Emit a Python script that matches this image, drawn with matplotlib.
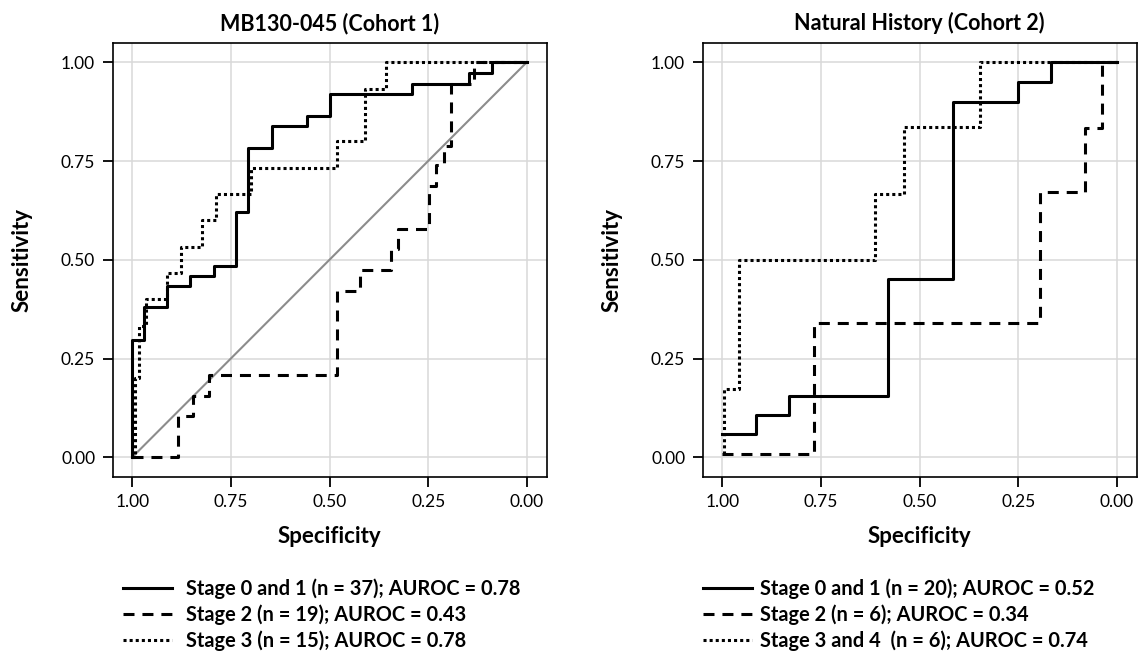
import matplotlib
matplotlib.use("Agg")
import matplotlib.pyplot as plt

plt.rcParams['font.family'] = ['Lato', 'DejaVu Sans']

# ---- data (specificity, sensitivity ROC step vertices) ----
titles = ["MB130-045 (Cohort 1)", "Natural History (Cohort 2)"]
tick_vals = [0.0, 0.25, 0.5, 0.75, 1.0]
tick_labels = ["0.00", "0.25", "0.50", "0.75", "1.00"]

c1_s01_spec = [1.0, 1.0, 0.970, 0.911, 0.854, 0.794, 0.736, 0.706, 0.647, 0.557, 0.499, 0.292, 0.146, 0.087, 0.0]
c1_s01_sens = [0.0, 0.298, 0.380, 0.433, 0.458, 0.485, 0.620, 0.783, 0.838, 0.863, 0.920, 0.946, 0.973, 1.0, 1.0]
c1_s2_spec = [1.0, 0.884, 0.846, 0.806, 0.480, 0.423, 0.344, 0.327, 0.248, 0.230, 0.211, 0.193, 0.134, 0.0]
c1_s2_sens = [0.0, 0.105, 0.156, 0.209, 0.420, 0.475, 0.526, 0.578, 0.686, 0.741, 0.787, 0.946, 1.0, 1.0]
c1_s3_spec = [1.0, 0.994, 0.983, 0.964, 0.911, 0.876, 0.823, 0.787, 0.698, 0.482, 0.409, 0.357, 0.0]
c1_s3_sens = [0.0, 0.200, 0.333, 0.400, 0.467, 0.533, 0.600, 0.667, 0.733, 0.800, 0.933, 1.0, 1.0]

c2_s01_spec = [1.0, 0.914, 0.832, 0.581, 0.415, 0.250, 0.167, 0.0]
c2_s01_sens = [0.059, 0.107, 0.156, 0.451, 0.899, 0.949, 1.0, 1.0]
c2_s2_spec = [1.0, 0.767, 0.195, 0.080, 0.038, 0.0]
c2_s2_sens = [0.008, 0.339, 0.671, 0.834, 1.0, 1.0]
c2_s34_spec = [0.996, 0.996, 0.958, 0.613, 0.540, 0.347, 0.0]
c2_s34_sens = [0.008, 0.173, 0.500, 0.667, 0.837, 1.0, 1.0]

labels_c1 = ["Stage 0 and 1 (n = 37); AUROC = 0.78",
             "Stage 2 (n = 19); AUROC = 0.43",
             "Stage 3 (n = 15); AUROC = 0.78"]
labels_c2 = ["Stage 0 and 1 (n = 20); AUROC = 0.52",
             "Stage 2 (n = 6); AUROC = 0.34",
             "Stage 3 and 4  (n = 6); AUROC = 0.74"]

fig = plt.figure(figsize=(11.38, 6.51), dpi=100)
W, H = 1138, 651
ax1 = fig.add_axes([112.5 / W, 1 - 477 / H, 434 / W, 434.5 / H])
ax2 = fig.add_axes([702.5 / W, 1 - 477 / H, 434 / W, 434.5 / H])

lw = 2.2
styles = [dict(linestyle='-'),
          dict(linestyle=(0, (3.6, 2.6))),
          dict(linestyle=(0, (1.0, 1.0)))]

def setup(ax, title):
    ax.set_xlim(1.05, -0.05)
    ax.set_ylim(-0.05, 1.05)
    ax.set_xticks(tick_vals)
    ax.set_xticklabels(tick_labels)
    ax.set_yticks(tick_vals)
    ax.set_yticklabels(tick_labels)
    ax.grid(True, color='#d9d9d9', linewidth=1.1)
    ax.set_axisbelow(True)
    for sp in ax.spines.values():
        sp.set_linewidth(1.2)
        sp.set_color('black')
    ax.tick_params(length=7, width=1.3, labelsize=12.5, pad=5.5, colors='black')
    ax.set_title(title, fontsize=15.5, fontweight='bold', pad=9)
    ax.set_xlabel("Specificity", fontsize=16, fontweight='bold', labelpad=11)
    ax.set_ylabel("Sensitivity", fontsize=16, fontweight='bold', labelpad=20)

setup(ax1, titles[0])
setup(ax2, titles[1])

ax1.plot([1, 0], [0, 1], color='#8c8c8c', linewidth=1.5, zorder=2)

l1 = ax1.plot(c1_s01_spec, c1_s01_sens, drawstyle='steps-post', color='black', lw=lw, **styles[0])[0]
l2 = ax1.plot(c1_s2_spec, c1_s2_sens, drawstyle='steps-post', color='black', lw=lw, **styles[1])[0]
l3 = ax1.plot(c1_s3_spec, c1_s3_sens, drawstyle='steps-post', color='black', lw=lw, **styles[2])[0]

m1 = ax2.plot(c2_s01_spec, c2_s01_sens, drawstyle='steps-post', color='black', lw=lw, **styles[0])[0]
m2 = ax2.plot(c2_s2_spec, c2_s2_sens, drawstyle='steps-post', color='black', lw=lw, **styles[1])[0]
m3 = ax2.plot(c2_s34_spec, c2_s34_sens, drawstyle='steps-post', color='black', lw=lw, **styles[2])[0]

for ax, handles, labels, ax0, tpad in [(ax1, [l1, l2, l3], labels_c1, 0.006, 0.7),
                                       (ax2, [m1, m2, m3], labels_c2, -0.017, 0.4)]:
    ax.legend(handles, labels, loc='upper left', frameon=False,
              bbox_to_anchor=(ax0, -0.214), handlelength=2.45, handletextpad=tpad,
              labelspacing=0.27, prop=dict(size=14.4, weight='bold'), borderaxespad=0)

fig.savefig("out.png", dpi=100, facecolor='white')
